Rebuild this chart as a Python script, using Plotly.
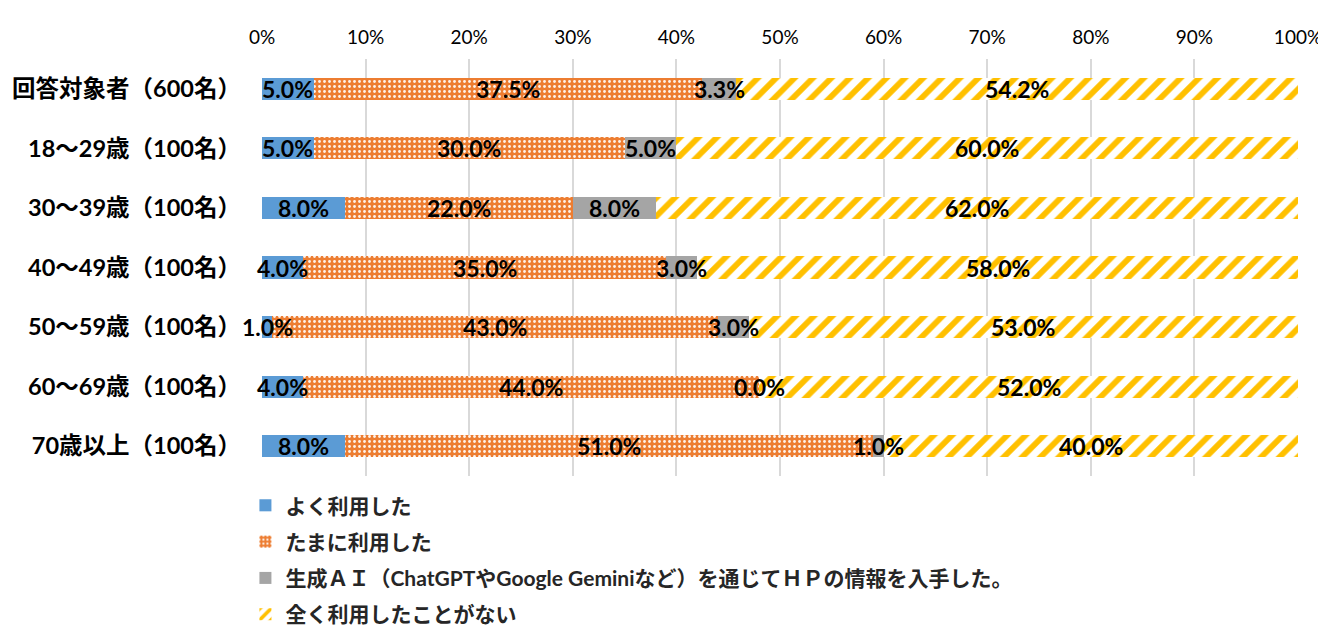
import plotly.graph_objects as go

categories = ["回答対象者（600名）", "18～29歳（100名）", "30～39歳（100名）", "40～49歳（100名）",
              "50～59歳（100名）", "60～69歳（100名）", "70歳以上（100名）"]
series_names = ["よく利用した", "たまに利用した",
                "生成ＡＩ（ChatGPTやGoogle Geminiなど）を通じてＨＰの情報を入手した。",
                "全く利用したことがない"]
often = [5.0, 5.0, 8.0, 4.0, 1.0, 4.0, 8.0]
sometimes = [37.5, 30.0, 22.0, 35.0, 43.0, 44.0, 51.0]
gen_ai = [3.3, 5.0, 8.0, 3.0, 3.0, 0.0, 1.0]
never = [54.2, 60.0, 62.0, 58.0, 53.0, 52.0, 40.0]

FONT = "Lato, 'Noto Sans CJK JP', sans-serif"

styles = [
    dict(color="#5B9BD5"),
    dict(color="#ED7D31", pattern=dict(shape=".", fgcolor="white", fgopacity=0.9, size=5, solidity=0.25, fillmode="overlay")),
    dict(color="#A5A5A5"),
    dict(color="white", pattern=dict(shape="/", fgcolor="#FFC000", fgopacity=1, size=13, solidity=0.45, fillmode="overlay")),
]

all_series = [often, sometimes, gen_ai, never]

fig = go.Figure()
for i, (name, vals) in enumerate(zip(series_names, all_series)):
    fig.add_trace(go.Bar(
        y=categories, x=[v / 100 for v in vals], name=name, orientation="h",
        marker=dict(line=dict(width=0), **styles[i]),
        width=0.37, legendgroup=f"g{i}", hoverinfo="x+name",
    ))

# Data labels centred on each segment (computed from the series values)
annotations = []
for r, cat in enumerate(categories):
    start = 0.0
    for vals in all_series:
        v = vals[r]
        annotations.append(dict(
            x=(start + v / 2) / 100, y=cat, xref="x", yref="y",
            text=f"{v:.1f}%", showarrow=False,
            font=dict(family=FONT, size=23, color="black", weight="bold"),
        ))
        start += v

fig.update_layout(
    barmode="stack",
    width=1318, height=618,
    margin=dict(l=254, r=28, t=51, b=150, autoexpand=False),
    plot_bgcolor="white", paper_bgcolor="white",
    font=dict(family=FONT),
    showlegend=True,
    legend=dict(orientation="v", x=-0.016, xanchor="left", y=-0.022, yanchor="top",
                font=dict(family=FONT, size=21, color="#262626", weight="bold"),
                tracegroupgap=6, itemwidth=30, traceorder="grouped"),
    annotations=annotations,
)
fig.update_xaxes(side="top", range=[0, 1], dtick=0.1, tickformat=".0%",
                 showgrid=True, gridcolor="#D9D9D9", gridwidth=1.5, zeroline=False,
                 tickfont=dict(family=FONT, size=19, color="#000000"), ticks="",
                 ticklabelstandoff=10, fixedrange=True)
fig.update_yaxes(autorange="reversed", showgrid=False, ticks="", ticklabelstandoff=20,
                 tickfont=dict(family=FONT, size=23.5, color="#000000", weight="bold"))

fig.write_html("out.html")
